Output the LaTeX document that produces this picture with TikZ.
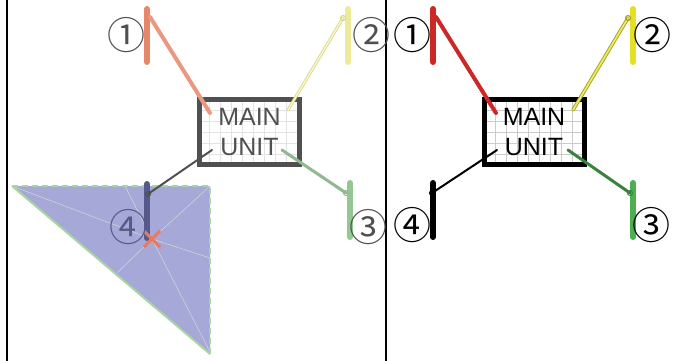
\documentclass[tikz,border=0pt]{standalone}
\usepackage{fontspec}
\setmainfont{Liberation Sans}
\newfontfamily\circfont{Noto Sans CJK SC}

\definecolor{boxgray}{HTML}{505050}
\definecolor{salmon}{HTML}{E8866A}
\definecolor{paleyel}{HTML}{EEEA9C}
\definecolor{palegrn}{HTML}{94C794}
\definecolor{slate}{HTML}{565A8A}
\definecolor{lavender}{HTML}{A6A8D8}
\definecolor{edgegrn}{HTML}{A9D6A0}
\definecolor{redpole}{HTML}{CC2828}
\definecolor{yelpole}{HTML}{E6E024}
\definecolor{grnpole}{HTML}{4CAF50}

\tikzset{
  frame/.style={line width=2pt},
  pole/.style={line width=6pt, line cap=round},
  conn/.style={line width=3pt, line cap=round},
  joint/.style={line width=1pt},
  num/.style={font=\circfont\fontsize{38}{38}\selectfont, inner sep=0pt},
  unit/.style={line width=5pt, minimum width=100pt, minimum height=65pt,
    align=center, inner sep=0pt, font=\fontsize{25}{30}\selectfont},
  gridline/.style={line width=0.5pt, step=11pt},
  spoke/.style={line width=0.6pt, color=gray!35},
  edge/.style={line width=2pt, color=edgegrn, dash pattern=on 6pt off 4pt},
}

\begin{document}
\begin{tikzpicture}[x=1pt,y=-1pt]
\useasboundingbox (0,0) rectangle (677,361);
\draw[frame] (7,0) -- (7,361);
\draw[frame] (386,0) -- (386,361);

% left panel: covered area
\coordinate (xm) at (152,239);
\fill[lavender] (12,186) -- (210,186) -- (210,354) -- cycle;
\foreach \p in {(12,186),(125,186),(210,186),(210,258),(210,352),(117,273)}
  \draw[spoke] (xm) -- \p;
\draw[edge] (12,186) -- (210,186) -- (210,354);
\draw[edge, solid] (210,354) -- (12,186);

% left panel: main unit
\draw[gridline, color=gray!22] (200,100) grid (299,164);
\node[unit, draw=boxgray, text=boxgray] (muL) at (249.5,132) {MAIN\\UNIT};
\coordinate (bl1) at (210,113);
\coordinate (bl2) at (288,110);
\coordinate (bl3) at (282,150);
\coordinate (bl4) at (212,150);

% left panel: poles
\draw[pole, salmon] (147,9) -- (147,62);
\draw[pole, paleyel] (348,9) -- (348,62);
\draw[pole, palegrn] (350,183) -- (350,237);
\draw[pole, slate] (147,184) -- (147,238);
\coordinate (jl1) at (150,17);
\coordinate (jl2) at (343,18);
\coordinate (jl3) at (346,193);
\coordinate (jl4) at (148,194);
\draw[conn, line width=4pt, salmon!85] (bl1) -- (jl1);
\draw[conn, paleyel!80!olive] (jl2) -- (bl2);
\draw[conn, line width=1.4pt, paleyel!40] (jl2) -- (bl2);
\draw[joint, paleyel!80!olive] (jl2) circle[radius=2.5];
\draw[conn, palegrn!80!gray] (jl3) -- (bl3);
\draw[joint, palegrn!80!gray] (jl3) circle[radius=2.5];
\draw[conn, line width=2pt, boxgray] (jl4) -- (bl4);
\draw[joint, boxgray] (jl4) circle[radius=2.5];

% left panel: marker
\draw[line width=3pt, salmon!90!red] (144,231) -- (160,247) (144,247) -- (160,231);

\node[num, text=boxgray] (nl1) at (126.5,35) {①};
\node[num, text=boxgray] (nl2) at (371.5,35) {②};
\node[num, text=boxgray] (nl3) at (368.5,227) {③};
\node[num, text=slate] (nl4) at (128,227) {④};

% right panel: main unit
\draw[gridline, color=gray!40] (485,100) grid (584,164);
\node[unit, draw=black, text=black] (muR) at (534,132) {MAIN\\UNIT};
\coordinate (br1) at (496,113);
\coordinate (br2) at (573,110);
\coordinate (br3) at (568,150);
\coordinate (br4) at (497,150);

% right panel: poles
\draw[pole, redpole] (433,9) -- (433,62);
\draw[pole, yelpole] (633,9) -- (633,62);
\draw[pole, grnpole] (633,183) -- (633,237);
\draw[pole, black] (433,183) -- (433,237);
\coordinate (jr1) at (436,17);
\coordinate (jr2) at (628,18);
\coordinate (jr3) at (630,193);
\coordinate (jr4) at (432,193);
\draw[conn, line width=4pt, redpole] (br1) -- (jr1);
\draw[conn, line width=3.5pt, yelpole!70!black] (jr2) -- (br2);
\draw[conn, line width=1.8pt, yelpole!70] (jr2) -- (br2);
\draw[joint, yelpole!70!black] (jr2) circle[radius=2.5];
\draw[conn, grnpole!75!black] (jr3) -- (br3);
\draw[joint, grnpole!75!black] (jr3) circle[radius=2.5];
\draw[conn, line width=2pt, black] (jr4) -- (br4);
\draw[joint, black] (jr4) circle[radius=2.5];

\node[num] (nr1) at (412,35) {①};
\node[num] (nr2) at (652,35) {②};
\node[num] (nr3) at (651,225) {③};
\node[num] (nr4) at (412,225) {④};
\end{tikzpicture}
\end{document}
